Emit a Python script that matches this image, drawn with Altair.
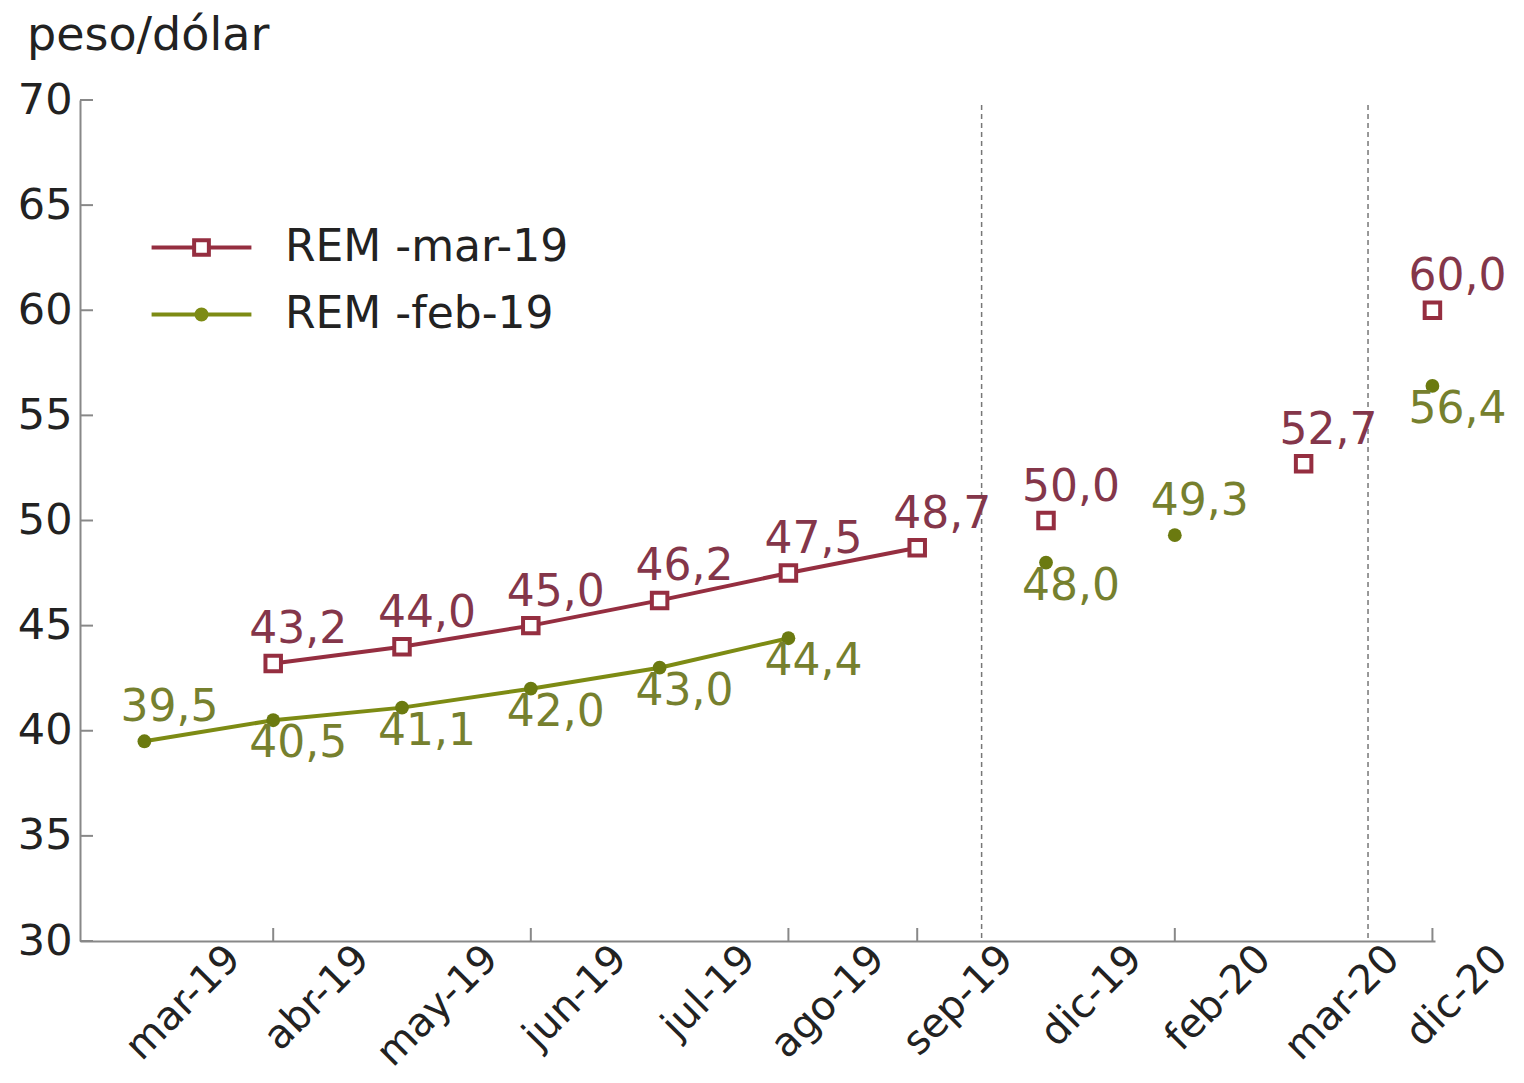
import altair as alt
import pandas as pd

# ---------------- data ----------------
meses = ["mar-19", "abr-19", "may-19", "jun-19", "jul-19", "ago-19",
         "sep-19", "dic-19", "feb-20", "mar-20", "dic-20"]
rem_mar19 = [None, 43.2, 44.0, 45.0, 46.2, 47.5, 48.7, 50.0, None, 52.7, 60.0]
rem_feb19 = [39.5, 40.5, 41.1, 42.0, 43.0, 44.4, None, 48.0, 49.3, None, 56.4]
series = ["REM -mar-19", "REM -feb-19"]
ultimo_mensual = "sep-19"                 # lines join monthly points up to here
feb19_etiqueta_arriba = ["mar-19", "feb-20"]  # feb-19 labels drawn above the dot
separadores = [6.5, 9.5]                  # dashed dividers between periods
y_ticks = [30, 35, 40, 45, 50, 55, 60, 65, 70]
x_tick_meses = ["abr-19", "jun-19", "ago-19", "sep-19", "feb-20", "dic-20"]

# ---------------- styles ----------------
RED = "#952e40"
RED_TXT = "#84364a"
OLIVE = "#7d8b14"
OLIVE_PT = "#6b7a10"
OLIVE_TXT = "#76802e"
AXIS = "#888888"
FONT = "DejaVu Sans"
W, H = 1355, 841

rows = []
lim = meses.index(ultimo_mensual)
for i, m in enumerate(meses):
    for s, vals in zip(series, [rem_mar19, rem_feb19]):
        v = vals[i]
        if v is None:
            continue
        rows.append(dict(i=i, mes=m, serie=s, valor=v,
                         etiqueta=f"{v:.1f}".replace(".", ","),
                         mensual=i <= lim,
                         arriba=(s == series[0]) or (m in feb19_etiqueta_arriba)))
df = pd.DataFrame(rows)

xscale = alt.Scale(domain=[-0.5, 10.02], nice=False, zero=False)
yscale = alt.Scale(domain=[30, 70], nice=False, zero=False)

last = len(meses) - 1
label_expr = "[" + ",".join(f"'{m}'" for m in meses) + "][datum.value]"
xaxis = alt.Axis(values=list(range(len(meses))), labelExpr=label_expr,
                 labelAngle=-45, labelAlign="right", labelBaseline="middle",
                 labelOffset={"condition": {"test": f"datum.value == {last}", "value": 68},
                              "value": 89},
                 labelPadding=11, ticks=False, grid=False,
                 title=None, domainColor=AXIS, domainWidth=2,
                 labelFont=FONT, labelFontSize=40, labelColor="#222222",
                 labelOverlap=False, labelFlush=False, labelBound=False)
yaxis = alt.Axis(values=y_ticks, ticks=False, grid=False, title=None,
                 domainColor=AXIS, domainWidth=2, labelPadding=8,
                 labelFont=FONT, labelFontSize=43, labelColor="#222222",
                 labelOverlap=False, labelFlush=False, labelBound=False)

X = alt.X("i:Q", scale=xscale, axis=xaxis)
Y = alt.Y("valor:Q", scale=yscale, axis=yaxis)

base = alt.Chart(df)

sep = alt.Chart(pd.DataFrame({"i": separadores})).mark_rule(
    color="#777777", strokeWidth=1.5, strokeDash=[5, 4]
).encode(x=X, y=alt.value(5), y2=alt.value(H))

yt = alt.Chart(pd.DataFrame({"valor": y_ticks})).mark_rule(
    color=AXIS, strokeWidth=2
).encode(y=Y, x=alt.value(0), x2=alt.value(13))

xt = alt.Chart(pd.DataFrame({"i": [meses.index(m) for m in x_tick_meses]})).mark_rule(
    color=AXIS, strokeWidth=2
).encode(x=X, y=alt.value(H), y2=alt.value(H - 13))

f_red = alt.datum.serie == series[0]
f_ol = alt.datum.serie == series[1]

line_ol = base.transform_filter(f_ol).transform_filter(alt.datum.mensual).mark_line(
    color=OLIVE, strokeWidth=4).encode(x=X, y=Y, order="i:Q")
line_red = base.transform_filter(f_red).transform_filter(alt.datum.mensual).mark_line(
    color=RED, strokeWidth=4).encode(x=X, y=Y, order="i:Q")

pts_ol = base.transform_filter(f_ol).mark_circle(
    color=OLIVE_PT, size=190, opacity=1).encode(x=X, y=Y)
pts_red = base.transform_filter(f_red).mark_point(
    shape="square", filled=True, fill="white", stroke=RED, strokeWidth=4,
    size=240, opacity=1).encode(x=X, y=Y)

txt_red = base.transform_filter(f_red).mark_text(
    align="left", baseline="alphabetic", dx=-24, dy=-20,
    font=FONT, fontSize=44, color=RED_TXT).encode(x=X, y=Y, text="etiqueta:N")
txt_ol_up = base.transform_filter(f_ol).transform_filter(alt.datum.arriba).mark_text(
    align="left", baseline="alphabetic", dx=-24, dy=-20,
    font=FONT, fontSize=44, color=OLIVE_TXT).encode(x=X, y=Y, text="etiqueta:N")
txt_ol_dn = base.transform_filter(f_ol).transform_filter(~alt.datum.arriba).mark_text(
    align="left", baseline="alphabetic", dx=-24, dy=37,
    font=FONT, fontSize=44, color=OLIVE_TXT).encode(x=X, y=Y, text="etiqueta:N")

# legend (line + marker symbols); the dot is drawn as concentric stroked rings
sq = "M-1.49,0H-0.22M0.22,0H1.49M-0.22,-0.22H0.22V0.22H-0.22Z"
ci = ("M-1.49,0H1.49"
      "M0.15,0A0.15,0.15,0,1,1,-0.15,0A0.15,0.15,0,1,1,0.15,0Z"
      "M0.06,0A0.06,0.06,0,1,1,-0.06,0A0.06,0.06,0,1,1,0.06,0Z")
leg = alt.Legend(
    title=None, orient="none", legendX=86, legendY=112,
    symbolSize=4489, symbolStrokeWidth=4, labelFont=FONT, labelFontSize=44,
    labelColor="#222222", labelOffset=48, rowPadding=9, padding=0,
    labelLimit=0, symbolOpacity=1,
    symbolStrokeColor=alt.ExprRef(f"datum.value === '{series[0]}' ? '{RED}' : '{OLIVE}'"),
)
legend_layer = alt.Chart(pd.DataFrame({"serie": series})).mark_point(
    filled=False, opacity=1).encode(
    shape=alt.Shape("serie:N", scale=alt.Scale(domain=series, range=[sq, ci]), legend=leg),
).transform_filter("false")

chart = alt.layer(
    sep, xt, yt, line_ol, line_red, pts_ol, pts_red,
    txt_red, txt_ol_up, txt_ol_dn, legend_layer
).properties(
    width=W, height=H, autosize="none",
    padding={"left": 72, "top": 92, "right": 81, "bottom": 134},
    title=alt.TitleParams("peso/dólar", anchor="start", font=FONT, fontSize=46,
                          fontWeight="normal", color="#222222", dx=-53, dy=45,
                          baseline="alphabetic", offset=28, frame="group"),
).configure_view(stroke=None)

chart.save("out.html", embed_options={"renderer": "svg", "actions": False})
